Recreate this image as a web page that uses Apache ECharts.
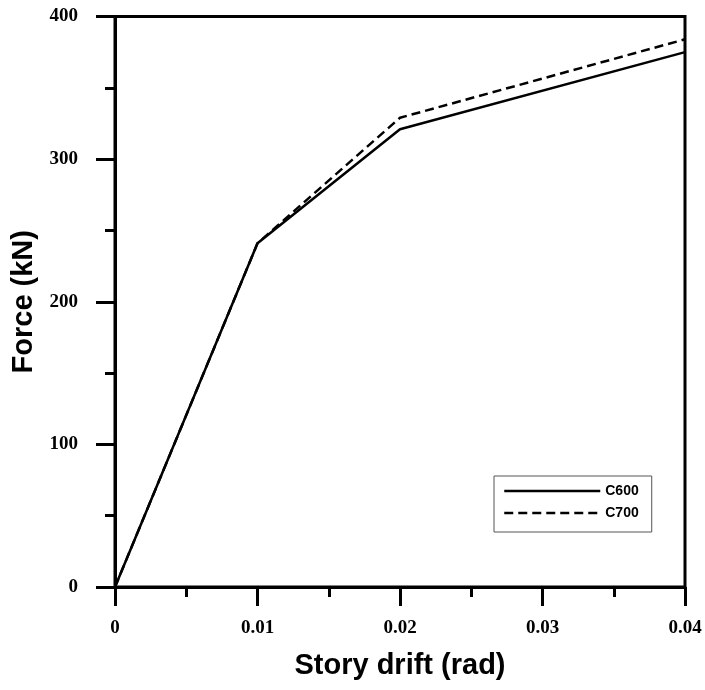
<!DOCTYPE html>
<html>
<head>
<meta charset="utf-8">
<script src="https://cdn.jsdelivr.net/npm/echarts@6/dist/echarts.min.js"></script>
<style>html,body{margin:0;padding:0;background:#fff}#c{width:705px;height:690px}</style>
</head>
<body>
<div id="c"></div>
<script>
const drift = [0, 0.01, 0.02, 0.04];
const c600 = [0, 241, 321, 375];
const c700 = [0, 241, 329, 384];
const seriesNames = ['C600', 'C700'];
const xTitle = 'Story drift (rad)';
const yTitle = 'Force (kN)';

const chart = echarts.init(document.getElementById('c'));
const pair = (xs, ys) => xs.map((x, i) => [x, ys[i]]);
const labelFont = {fontFamily: 'Liberation Serif', fontWeight: 'bold', fontSize: 19, color: '#000'};
const nameFont = {fontFamily: 'Liberation Sans', fontWeight: 'bold', fontSize: 29, color: '#000'};
chart.setOption({
  animation: false,
  grid: {left: 115, right: 20, top: 16.5, bottom: 103, show: true, borderColor: '#000', borderWidth: 3, backgroundColor: 'transparent'},
  legend: {
    orient: 'vertical', left: 494, top: 476,
    padding: [8, 13, 12, 9], itemGap: 8, itemWidth: 96, itemHeight: 14,
    borderColor: '#555', borderWidth: 1,
    itemStyle: {color: 'transparent', borderColor: 'transparent', borderWidth: 0, opacity: 0},
    lineStyle: {width: 2.5},
    textStyle: {fontFamily: 'Liberation Sans', fontWeight: 'bold', fontSize: 14, color: '#000'},
    data: seriesNames
  },
  xAxis: {
    type: 'value', min: 0, max: 0.04, interval: 0.01,
    name: xTitle, nameLocation: 'middle', nameGap: 64, nameTextStyle: nameFont,
    axisLine: {show: true, lineStyle: {color: '#000', width: 3}},
    axisTick: {show: true, inside: false, length: 19, lineStyle: {color: '#000', width: 3}},
    minorTick: {show: true, splitNumber: 2, length: 10, lineStyle: {color: '#000', width: 3}},
    splitLine: {show: false},
    axisLabel: Object.assign({margin: 32, formatter: v => v === 0 ? '0' : v.toFixed(2)}, labelFont)
  },
  yAxis: {
    type: 'value', min: 0, max: 400, interval: 100,
    name: yTitle, nameLocation: 'middle', nameGap: 70, nameTextStyle: nameFont,
    axisLine: {show: true, lineStyle: {color: '#000', width: 3}},
    axisTick: {show: true, inside: false, length: 19, lineStyle: {color: '#000', width: 3}},
    minorTick: {show: true, splitNumber: 2, length: 10, lineStyle: {color: '#000', width: 3}},
    splitLine: {show: false},
    axisLabel: Object.assign({margin: 37}, labelFont)
  },
  series: [
    {name: seriesNames[0], type: 'line', data: pair(drift, c600), symbol: 'none', color: '#000',
     lineStyle: {color: '#000', width: 2.5, type: 'solid'}},
    {name: seriesNames[1], type: 'line', data: pair(drift, c700), symbol: 'none', color: '#000',
     lineStyle: {color: '#000', width: 2.5, type: [9, 5]}}
  ]
});
</script>
</body>
</html>
